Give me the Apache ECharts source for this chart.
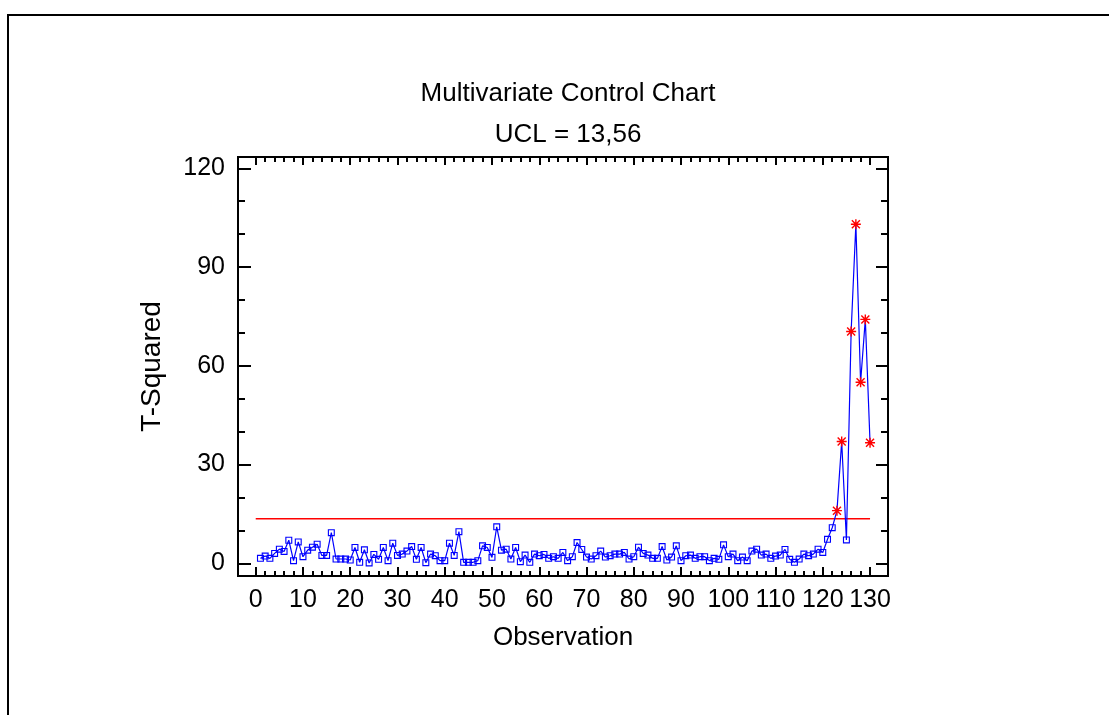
<!DOCTYPE html>
<html>
<head>
<meta charset="utf-8">
<script src="https://cdn.jsdelivr.net/npm/echarts@6/dist/echarts.min.js"></script>
<style>
html,body{margin:0;padding:0;background:#fff;}
#chart{width:1109px;height:715px;}
</style>
</head>
<body>
<div id="chart"></div>
<script>
// ---- data ----
var titleText = 'Multivariate Control Chart';
var subtitleText = 'UCL = 13,56';
var xName = 'Observation';
var yName = 'T-Squared';
var ucl = 13.56;
var uclRange = [0, 130];
var tSquared = [
  1.5, 2.2, 1.5, 3.0, 4.3, 3.6, 7.0, 0.8, 6.5, 2.0,
  4.0, 4.9, 5.8, 2.4, 2.4, 9.3, 1.3, 1.3, 1.3, 1.0,
  4.8, 0.3, 4.1, 0.1, 2.7, 1.2, 4.8, 0.8, 6.1, 2.4,
  2.8, 3.7, 5.1, 1.2, 4.8, 0.2, 2.8, 2.3, 0.8, 0.8,
  6.1, 2.4, 9.6, 0.3, 0.3, 0.3, 0.8, 5.3, 4.8, 1.8,
  11.1, 4.0, 4.3, 1.3, 4.8, 0.5, 2.5, 0.3, 2.8, 2.3,
  2.7, 1.5, 2.0, 1.5, 3.3, 0.8, 2.0, 6.3, 4.2, 1.9,
  1.3, 2.3, 3.7, 1.9, 2.3, 2.8, 2.8, 3.3, 1.3, 2.0,
  4.9, 3.0, 2.5, 1.5, 1.5, 5.1, 1.0, 1.9, 5.3, 0.8,
  2.3, 2.5, 1.5, 2.0, 2.0, 0.8, 1.5, 1.2, 5.6, 2.0,
  2.8, 0.8, 1.9, 0.8, 3.7, 4.3, 2.5, 2.8, 1.5, 2.2,
  2.5, 4.2, 1.2, 0.3, 1.3, 2.8, 2.3, 2.8, 4.3, 3.3,
  7.3, 10.8, 16.0, 37.0, 7.1, 70.4, 103.0, 55.0, 74.1, 36.6
];
var xTickLabels = [0, 10, 20, 30, 40, 50, 60, 70, 80, 90, 100, 110, 120, 130];
var xMinorTicks = [0,2,4,6,8,10,12,14,16,18,20,22,24,26,28,30,32,34,36,38,40,42,44,46,48,50,52,54,56,58,60,62,64,66,68,70,72,74,76,78,80,82,84,86,88,90,92,94,96,98,100,102,104,106,108,110,112,114,116,118,120,122,124,126,128,130];
var yTickLabels = [0, 30, 60, 90, 120];
var yMinorTicks = [0, 10, 20, 30, 40, 50, 60, 70, 80, 90, 100, 110, 120];

// ---- styles ----
var BLUE = '#0000ff';
var RED = '#ff0000';
var FONT = 'Liberation Sans, Arial, sans-serif';
var squareSym = 'path://M0,0H10V10H0Z M1.6,1.6V8.4H8.4V1.6Z';
var starSym = 'path://M8.6,0H11.4V20H8.6Z M0,8.6H20V11.4H0Z ' +
  'M3,1L19,17L17,19L1,3Z M17,1L19,3L3,19L1,17Z';

var pts = tSquared.map(function (v, i) {
  var out = v > ucl;
  return {
    value: [i + 1, v],
    symbol: out ? starSym : squareSym,
    symbolSize: out ? 10 : 7,
    itemStyle: { color: out ? RED : BLUE }
  };
});

var X_MIN = -3.75, X_MAX = 133.8, Y_MIN = -3.86, Y_MAX = 123.43;

function xAx(pos, ticks, len, labels) {
  return {
    type: 'value', min: X_MIN, max: X_MAX, position: pos,
    axisLine: { show: false, onZero: false },
    splitLine: { show: false },
    axisTick: { show: true, inside: true, length: len, customValues: ticks,
      lineStyle: { color: '#000', width: 2 } },
    axisLabel: labels ? { show: true, customValues: labels, margin: 12,
      fontSize: 25, fontFamily: FONT, color: '#000' } : { show: false }
  };
}
function yAx(pos, ticks, len, labels) {
  return {
    type: 'value', min: Y_MIN, max: Y_MAX, position: pos,
    axisLine: { show: false, onZero: false },
    splitLine: { show: false },
    axisTick: { show: true, inside: true, length: len, customValues: ticks,
      lineStyle: { color: '#000', width: 2 } },
    axisLabel: labels ? { show: true, customValues: labels, margin: 13,
      fontSize: 25, fontFamily: FONT, color: '#000' } : { show: false }
  };
}

var xAxes = [
  xAx('bottom', xTickLabels, 9, xTickLabels),
  xAx('bottom', xMinorTicks, 5, null),
  xAx('top', xTickLabels, 8, null),
  xAx('top', xMinorTicks, 5, null)
];
xAxes[0].name = xName;
xAxes[0].nameLocation = 'middle';
xAxes[0].nameGap = 49;
xAxes[0].nameTextStyle = { fontSize: 26, fontFamily: FONT, color: '#000' };

var yAxes = [
  yAx('left', yTickLabels, 13, yTickLabels),
  yAx('left', yMinorTicks, 7, null),
  yAx('right', yTickLabels, 12, null),
  yAx('right', yMinorTicks, 7, null)
];
yAxes[0].name = yName;
yAxes[0].nameLocation = 'middle';
yAxes[0].nameGap = 72;
yAxes[0].nameTextStyle = { fontSize: 28, fontFamily: FONT, color: '#000' };

var chart = echarts.init(document.getElementById('chart'), null, { renderer: 'canvas' });
chart.setOption({
  animation: false,
  backgroundColor: '#fff',
  title: [
    { text: titleText, left: 563, top: 76, textAlign: 'center',
      textStyle: { fontSize: 26, fontWeight: 'normal', fontFamily: FONT, color: '#000' } },
    { text: subtitleText, left: 563, top: 117, textAlign: 'center',
      textStyle: { fontSize: 26, fontWeight: 'normal', fontFamily: FONT, color: '#000' } }
  ],
  graphic: [
    { type: 'rect', shape: { x: 8, y: 15, width: 1200, height: 800 },
      style: { fill: 'none', stroke: '#000', lineWidth: 2 }, silent: true }
  ],
  grid: { left: 238, top: 157, width: 650, height: 419, show: true,
    borderColor: '#000', borderWidth: 2, backgroundColor: 'transparent' },
  xAxis: xAxes,
  yAxis: yAxes,
  series: [
    { type: 'line', name: 'UCL', xAxisIndex: 0, yAxisIndex: 0,
      data: uclRange.map(function (x) { return [x, ucl]; }),
      symbol: 'none', lineStyle: { color: RED, width: 1.5 }, z: 2 },
    { type: 'line', name: 'T-Squared', xAxisIndex: 0, yAxisIndex: 0,
      data: pts, showSymbol: true, showAllSymbol: true,
      lineStyle: { color: BLUE, width: 1.2 }, itemStyle: { color: BLUE }, z: 3 }
  ]
});
</script>
</body>
</html>
